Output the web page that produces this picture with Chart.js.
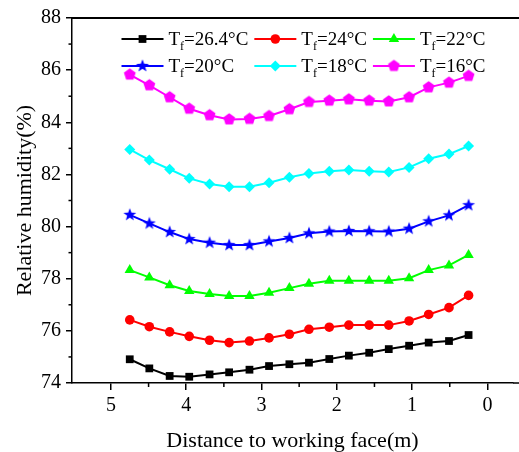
<!DOCTYPE html>
<html lang="en">
<head>
<meta charset="UTF-8">
<title>Relative humidity vs distance to working face</title>
<script src="https://cdn.jsdelivr.net/npm/chart.js"></script>
<style>
  html, body { margin: 0; padding: 0; background: #fff; }
  #wrap { position: relative; width: 519px; height: 452px; }
  #topFrame { position: absolute; left: 71px; top: 17px; width: 448px; height: 1.5px; background: #000; }
</style>
</head>
<body>
<div id="wrap"><canvas id="rhChart" width="519" height="452"></canvas><div id="topFrame"></div></div>
<script>
// distance to working face (m), shared by all series
const distance = [4.75, 4.49, 4.22, 3.96, 3.69, 3.43, 3.16, 2.90, 2.63, 2.37, 2.10, 1.84, 1.57, 1.31, 1.04, 0.78, 0.51, 0.25];

// relative humidity (%) per inflow temperature
const rh264 = [74.91, 74.56, 74.27, 74.24, 74.33, 74.41, 74.51, 74.65, 74.72, 74.78, 74.92, 75.05, 75.16, 75.30, 75.43, 75.55, 75.61, 75.84];
const rh24  = [76.42, 76.16, 75.96, 75.79, 75.64, 75.55, 75.61, 75.73, 75.87, 76.06, 76.14, 76.22, 76.22, 76.22, 76.38, 76.63, 76.89, 77.36];
const rh22  = [78.33, 78.05, 77.75, 77.53, 77.41, 77.34, 77.34, 77.46, 77.64, 77.81, 77.92, 77.92, 77.92, 77.92, 78.02, 78.33, 78.51, 78.91];
const rh20  = [80.45, 80.12, 79.79, 79.52, 79.38, 79.29, 79.29, 79.43, 79.56, 79.74, 79.81, 79.83, 79.82, 79.81, 79.92, 80.20, 80.43, 80.82];
const rh18  = [82.96, 82.55, 82.20, 81.85, 81.63, 81.53, 81.53, 81.68, 81.89, 82.04, 82.12, 82.17, 82.12, 82.09, 82.27, 82.60, 82.78, 83.09];
const rh16  = [85.83, 85.42, 84.96, 84.52, 84.27, 84.11, 84.13, 84.24, 84.50, 84.78, 84.83, 84.88, 84.83, 84.80, 84.96, 85.34, 85.52, 85.78];

const temps = ['26.4', '24', '22', '20', '18', '16'];
const xTicks = [0, 1, 2, 3, 4, 5];
const xMinor = [0.5, 1.5, 2.5, 3.5, 4.5];
const yMinor = [75, 77, 79, 81, 83, 85, 87];

const FONT = '"Liberation Serif", "Times New Roman", serif';

// filled star / pentagon markers (chart.js has no filled versions)
function makeMarker(color, n, outer, inner) {
  const size = Math.ceil(outer * 2) + 2;
  const c = document.createElement('canvas');
  c.width = size; c.height = size;
  const g = c.getContext('2d');
  g.fillStyle = color;
  g.beginPath();
  const k = inner ? n * 2 : n;
  for (let i = 0; i < k; i++) {
    const r = (inner && i % 2) ? inner : outer;
    const a = -Math.PI / 2 + i * Math.PI * 2 / k;
    const px = size / 2 + r * Math.cos(a), py = size / 2 + r * Math.sin(a);
    if (i) g.lineTo(px, py); else g.moveTo(px, py);
  }
  g.closePath();
  g.fill();
  return c;
}

const series = [rh264, rh24, rh22, rh20, rh18, rh16];
const colors = ['#000000', '#ff0000', '#00ff00', '#0000ff', '#00ffff', '#ff00ff'];
const styles = ['rect', 'circle', 'triangle', makeMarker('#0000ff', 5, 6.8, 2.8), 'rectRot', makeMarker('#ff00ff', 5, 6.2)];
const radii = [5.5, 4.8, 6, 6, 5.5, 6];

const datasets = series.map((vals, i) => ({
  label: 'Tf=' + temps[i] + '°C',
  data: distance.map((d, j) => ({ x: d, y: vals[j] })),
  borderColor: colors[i],
  backgroundColor: colors[i],
  borderWidth: 2,
  pointStyle: styles[i],
  pointRadius: radii[i],
  pointBorderWidth: 0,
  tension: 0
}));

// legend (subscript "f", two rows of three), frame extension and minor ticks
const decor = {
  id: 'decor',
  afterDraw(chart) {
    const ctx = chart.ctx, a = chart.chartArea;
    const xs = chart.scales.x, ys = chart.scales.y;
    ctx.save();

    const big = '19px ' + FONT, small = '12px ' + FONT;
    const parts = temps.map(t => ['T', 'f', '=' + t + '°C']);
    const widthOf = p => {
      ctx.font = big; let w = ctx.measureText(p[0]).width + ctx.measureText(p[2]).width;
      ctx.font = small; w += ctx.measureText(p[1]).width;
      return w;
    };
    const colW = [0, 1, 2].map(c => Math.max(widthOf(parts[c]), widthOf(parts[c + 3])));
    const lineLen = 42, gap = 5, colGap = 6;
    const rows = [a.top + 21, a.top + 48];
    chart.data.datasets.forEach((ds, i) => {
      const col = i % 3, row = Math.floor(i / 3);
      let x = a.left + 49.5;
      for (let c = 0; c < col; c++) x += lineLen + gap + colW[c] + colGap;
      const y = rows[row];
      ctx.strokeStyle = ds.borderColor;
      ctx.lineWidth = 2;
      ctx.beginPath(); ctx.moveTo(x, y); ctx.lineTo(x + lineLen, y); ctx.stroke();
      ctx.fillStyle = ds.backgroundColor;
      Chart.helpers.drawPoint(ctx, { pointStyle: ds.pointStyle, radius: ds.pointRadius, borderWidth: 0, rotation: 0 }, x + lineLen / 2, y);
      const p = parts[i];
      let tx = x + lineLen + gap;
      const base = y + 6;
      ctx.fillStyle = '#000';
      ctx.textBaseline = 'alphabetic';
      ctx.textAlign = 'left';
      ctx.font = big; ctx.fillText(p[0], tx, base); tx += ctx.measureText(p[0]).width;
      ctx.font = small; ctx.fillText(p[1], tx, base + 5); tx += ctx.measureText(p[1]).width;
      ctx.font = big; ctx.fillText(p[2], tx, base);
    });

    ctx.fillStyle = '#000000';
    ctx.fillRect(a.right, a.bottom - 0.75, 519 - a.right, 1.5);
    xMinor.forEach(v => { const px = xs.getPixelForValue(v); ctx.fillRect(px - 0.75, a.bottom, 1.5, 4); });
    yMinor.forEach(v => { const py = ys.getPixelForValue(v); ctx.fillRect(a.left - 3.5, py - 0.75, 3.5, 1.5); });
    ctx.restore();
  }
};

new Chart(document.getElementById('rhChart').getContext('2d'), {
  type: 'line',
  data: { datasets: datasets },
  plugins: [decor],
  options: {
    responsive: false,
    animation: false,
    devicePixelRatio: 1,
    layout: { padding: { top: 18, right: 1, left: 0, bottom: 0 } },
    plugins: { legend: { display: false }, tooltip: { enabled: false } },
    scales: {
      x: {
        type: 'linear',
        reverse: true,
        min: -0.34,
        max: 5.517,
        afterBuildTicks: s => { s.ticks = xTicks.map(v => ({ value: v })); },
        afterFit: s => { s.height = 69; },
        grid: { drawOnChartArea: false, tickLength: 7, color: '#000', lineWidth: 1.5 },
        border: { color: '#000', width: 1.5 },
        ticks: { color: '#000', font: { family: FONT, size: 20 }, padding: 4, maxRotation: 0 },
        title: { display: true, text: 'Distance to working face(m)', color: '#000', font: { family: FONT, size: 22, lineHeight: 1 }, padding: { top: 0, bottom: 0 } }
      },
      y: {
        min: 74,
        max: 88,
        afterFit: s => { s.width = 72; },
        grid: { drawOnChartArea: false, tickLength: 6, color: '#000', lineWidth: 1.5 },
        border: { color: '#000', width: 1.5 },
        ticks: { stepSize: 2, color: '#000', font: { family: FONT, size: 20 }, padding: 5 },
        title: { display: true, text: 'Relative humidity(%)', color: '#000', font: { family: FONT, size: 22, lineHeight: 1.2 }, padding: { top: 12, bottom: 0 } }
      }
    }
  }
});
</script>
</body>
</html>
